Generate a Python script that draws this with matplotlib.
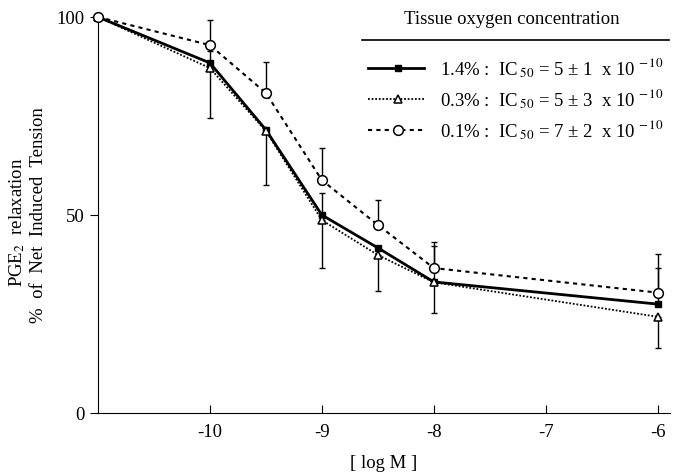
import numpy as np
import matplotlib
matplotlib.use('Agg')
from matplotlib import pyplot as plt

plt.rcParams['font.family'] = ['Liberation Serif', 'DejaVu Serif']
plt.rcParams['mathtext.fontset'] = 'stix'
plt.rcParams['axes.unicode_minus'] = False

# log concentration
log_m = [-11, -10, -9.5, -9, -8.5, -8, -6]

# 1.4 % oxygen (filled squares)
y_14 = [100, 88.4, 71.5, 50.0, 41.7, 33.1, 27.5]
up_14 = [0, 3.0, 0, 5.5, 0, 9.0, 9.0]
# 0.3 % oxygen (open triangles)
y_03 = [100, 87.1, 71.2, 48.7, 39.9, 33.0, 24.3]
dn_03 = [0, 12.6, 13.5, 12.0, 9.0, 7.7, 7.8]
# 0.1 % oxygen (open circles)
y_01 = [100, 92.9, 80.8, 58.8, 47.5, 36.6, 30.4]
up_01 = [0, 6.3, 7.8, 8.2, 6.3, 6.7, 9.7]

labels = ['1.4% :  IC$\\,_{50}$ = 5 ± 1  x 10$^{\\,-10}$',
          '0.3% :  IC$\\,_{50}$ = 5 ± 3  x 10$^{\\,-10}$',
          '0.1% :  IC$\\,_{50}$ = 7 ± 2  x 10$^{\\,-10}$']
xticks = [-10, -9, -8, -7, -6]
yticks = [0, 50, 100]

fig = plt.figure(figsize=(6.78, 4.75), dpi=100)
ax = fig.add_axes([98 / 678, 1 - 413 / 475, (670 - 98) / 678, (413 - 17) / 475])

x = np.array(log_m)

def bars(yv, err, up):
    yv = np.array(yv)
    err = np.array(err)
    m = err > 0
    if up:
        ye = [np.zeros(m.sum()), err[m]]
    else:
        ye = [err[m], np.zeros(m.sum())]
    ax.errorbar(x[m], yv[m], yerr=ye, fmt='none', ecolor='black',
                elinewidth=1.0, capsize=2.5, capthick=1.0, zorder=2)

bars(y_14, up_14, True)
bars(y_03, dn_03, False)
bars(y_01, up_01, True)

styles = [
    dict(ls='-', lw=2.0, marker='s', ms=5, mfc='black', mec='black'),
    dict(ls=(0, (1, 1)), lw=1.3, marker='^', ms=6, mfc='white', mec='black', mew=1.1),
    dict(ls=(0, (2, 2)), lw=1.5, marker='o', ms=7, mfc='white', mec='black', mew=1.1),
]
for yv, st in zip([y_14, y_03, y_01], styles):
    ax.plot(x, yv, color='black', clip_on=False, zorder=3, **st)

ax.set_xlim(-11, -5.89)
ax.set_ylim(0, 100)
ax.set_xticks(xticks)
ax.set_yticks(yticks)
ax.tick_params(axis='x', direction='in', length=6, labelsize=13.5, pad=8)
ax.tick_params(axis='y', direction='out', length=6, labelsize=13.5)
ax.spines['top'].set_visible(False)
ax.spines['right'].set_visible(False)
ax.set_xlabel('[ log M ]', fontsize=13.5, labelpad=10)

fig.text(17 / 678, 1 - 222 / 475, 'PGE$_2$  relaxation', rotation=90,
         ha='center', va='center', fontsize=13.5)
fig.text(39 / 678, 1 - 215 / 475, '%  of  Net  Induced  Tension', rotation=90,
         ha='center', va='center', fontsize=13.5)

# legend block
fig.text(512 / 678, 1 - 20 / 475, 'Tissue oxygen concentration',
         ha='center', va='center', fontsize=13.5)
fig.add_artist(plt.Line2D([362 / 678, 669 / 678], [1 - 40 / 475, 1 - 40 / 475],
                          color='black', lw=1.2))
rows = [68, 99, 130]
for lab, st, r in zip(labels, styles, rows):
    yy = 1 - r / 475
    fig.add_artist(plt.Line2D([368 / 678, 424 / 678], [yy, yy], color='black',
                              ls=st['ls'], lw=st['lw']))
    mk = {k: v for k, v in st.items() if k not in ('ls', 'lw')}
    fig.add_artist(plt.Line2D([398 / 678], [yy], color='black', ls='none', **mk))
    fig.text(440 / 678, yy, lab, ha='left', va='center', fontsize=13.5)

fig.savefig('out.png', dpi=100)
